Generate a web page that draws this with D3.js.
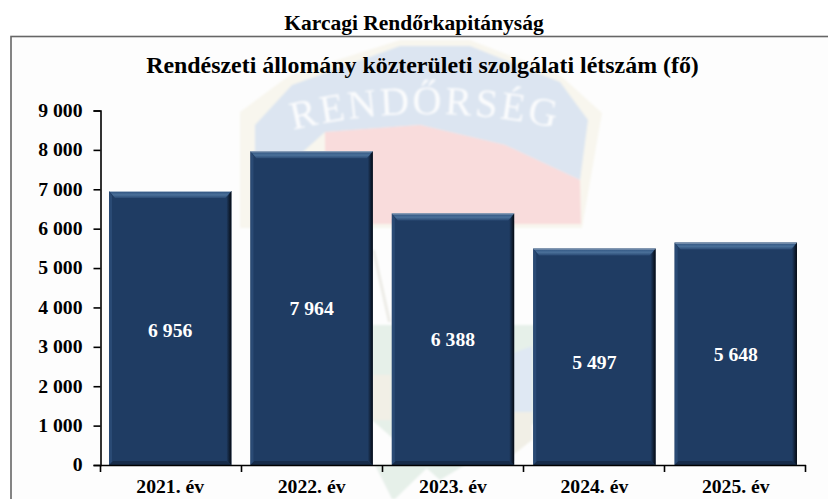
<!DOCTYPE html>
<html><head><meta charset="utf-8"><script src="https://cdn.jsdelivr.net/npm/d3@7"></script>
<style>html,body{margin:0;padding:0;background:#fff}svg{display:block}text{font-family:"Liberation Serif",serif;font-weight:bold}</style></head>
<body><svg id="c" width="828" height="499"></svg>
<script>
const years=["2021. év","2022. év","2023. év","2024. év","2025. év"];
const values=[6956,7964,6388,5497,5648];
const yTicks=[0,1000,2000,3000,4000,5000,6000,7000,8000,9000];
const pageTitle="Karcagi Rendőrkapitányság";
const chartTitle="Rendészeti állomány közterületi szolgálati létszám (fő)";
const fmt=v=>d3.format(",")(v).replace(/,/g," ");
const labelNudge=[2,0,0,5,0];
const svg=d3.select("#c");
const defs=svg.append("defs");
defs.append("filter").attr("id","soft").append("feGaussianBlur").attr("stdDeviation",1);
const rg=defs.append("linearGradient").attr("id","rightEdge");
rg.append("stop").attr("offset","0").attr("stop-color","#1f3c63");
rg.append("stop").attr("offset","1").attr("stop-color","#050a12");
const tg=defs.append("linearGradient").attr("id","topEdge").attr("x1",0).attr("x2",0).attr("y1",0).attr("y2",1);
tg.append("stop").attr("offset","0").attr("stop-color","#2c4f7c");
tg.append("stop").attr("offset","0.55").attr("stop-color","#4a7099");
tg.append("stop").attr("offset","1").attr("stop-color","#2a4a74");
defs.append("path").attr("id","arc").attr("d","M293,130 Q420,99 556,128");
const m={l:100.5,r:805.5,t:110.5,b:465};
const x=d3.scaleBand().domain(years).range([m.l,m.r]).paddingInner(0.135).paddingOuter(0.0605);
const y=d3.scaleLinear().domain([0,9000]).range([m.b,m.t]);

svg.append("text").attr("x",414).attr("y",30).attr("text-anchor","middle").attr("font-size",21.5).text(pageTitle);
svg.append("rect").attr("x",11).attr("y",36.5).attr("width",830).attr("height",480).attr("fill","#fdfdfd").attr("stroke","#666").attr("stroke-width",1.6);

// faded emblem behind the chart
const wm=svg.append("g").attr("filter","url(#soft)");
const P=(pts,f,o=1)=>wm.append("path").attr("d","M"+pts.map(p=>p.join(",")).join("L")+"Z").attr("fill",f).attr("opacity",o);
P([[240,112],[290,75],[400,40],[470,40],[560,75],[602,113],[582,228],[240,228]],"#f8f6ee");
P([[255,125],[292,85],[400,46],[470,46],[560,82],[588,120],[580,180],[505,145],[420,125],[325,132],[255,195]],"#dce5f1");
P([[325,132],[420,125],[505,145],[580,180],[581,224],[325,224]],"#f9dcdc");
P([[372,325],[540,325],[540,420],[440,480],[372,420]],"#e6f0e9");
P([[513,353],[532,346],[532,412],[513,412]],"#dfe8f3");
P([[513,412],[532,412],[532,440],[513,455]],"#f1efe6");
P([[372,375],[391,375],[391,420],[372,420]],"#f1efe6");
P([[375,465],[430,465],[395,499],[392,499]],"#e6f0e9");
P([[372,250],[375,250],[391,322],[388,322]],"#ecebe6");
wm.append("text").attr("font-size",40).attr("letter-spacing",3).attr("fill","#fff").attr("opacity",.9).style("font-weight","normal")
  .append("textPath").attr("href","#arc").text("RENDŐRSÉG");

svg.append("text").attr("x",422.5).attr("y",73).attr("text-anchor","middle").attr("font-size",23.9).text(chartTitle);

// beveled bars
const g=svg.append("g");
years.forEach((yr,i)=>{
  const v=values[i],X=x(yr),W=x.bandwidth(),T=y(v),B=y(0),R=X+W;
  const gr=g.append("g");
  gr.append("rect").attr("x",X).attr("y",T).attr("width",W).attr("height",B-T).attr("fill","#1f3c63");
  gr.append("path").attr("d",`M${X},${T}L${R},${T}L${R-6},${T+7}L${X+6},${T+7}Z`).attr("fill","url(#topEdge)");
  gr.append("path").attr("d",`M${X},${T+.5}L${R},${T+.5}`).attr("stroke","#a9bacd").attr("stroke-width",1);
  gr.append("path").attr("d",`M${R},${T}L${R},${B}L${R-5},${B-4}L${R-5},${T+7}Z`).attr("fill","url(#rightEdge)");
  gr.append("path").attr("d",`M${X},${T}L${X},${B}L${X+3},${B-3}L${X+3},${T+5}Z`).attr("fill","#2a4a74");
  gr.append("path").attr("d",`M${X},${B}L${R},${B}L${R-5},${B-4}L${X+4},${B-4}Z`).attr("fill","#172c4a");
  g.append("text").attr("x",X+W/2).attr("y",(T+B)/2+7+labelNudge[i]).attr("text-anchor","middle").attr("font-size",19.7).attr("fill","#fff").text(fmt(v));
});

const ya=svg.append("g").attr("transform",`translate(${m.l},0)`).call(d3.axisLeft(y).tickValues(yTicks).tickSize(7).tickPadding(11).tickFormat(fmt));
const xa=svg.append("g").attr("transform",`translate(0,${m.b})`).call(d3.axisBottom(x).tickSize(0).tickPadding(14));
const bounds=d3.range(years.length+1).map(i=>m.l+(m.r-m.l)*i/years.length);
svg.append("g").selectAll("line").data(bounds).join("line").attr("x1",d=>d).attr("x2",d=>d).attr("y1",m.b).attr("y2",m.b+7).attr("stroke","#000").attr("stroke-width",1.6);
[ya,xa].forEach(a=>{a.selectAll("path,line").attr("stroke","#000").attr("stroke-width",1.6);a.selectAll("text").attr("fill","#000").attr("font-size",19.7);a.attr("font-family",null).attr("font-size",null)});
ya.selectAll("text").attr("dy","0.3em");
</script></body></html>
